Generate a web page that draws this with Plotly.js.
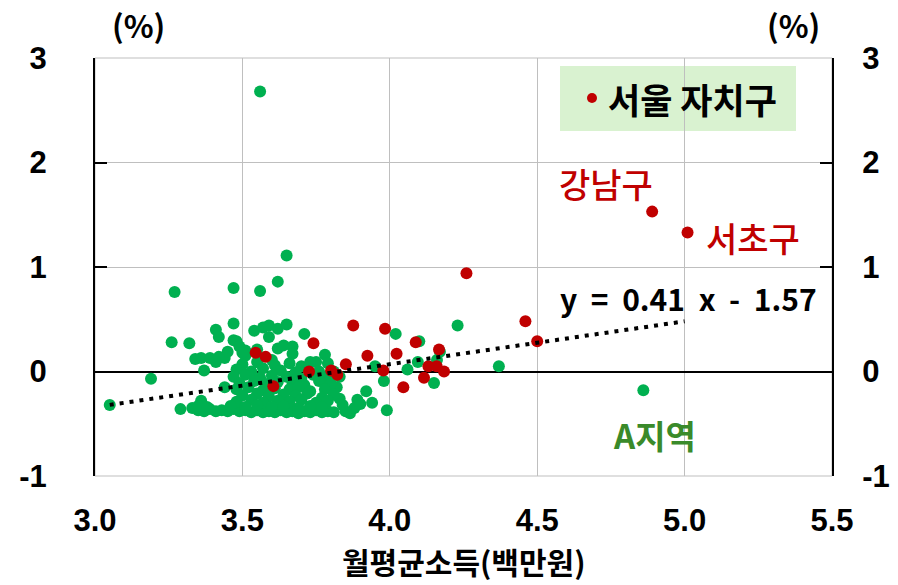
<!DOCTYPE html>
<html>
<head>
<meta charset="utf-8">
<script src="https://cdn.plot.ly/plotly-3.0.1.min.js"></script>
<style>html,body{margin:0;padding:0;background:#fff;}#chart{width:898px;height:585px;}</style>
</head>
<body>
<div id="chart"></div>
<script>
// ---- data ----
const seoulX = [4.89, 5.01, 4.26, 4.46, 4.50, 3.876, 3.984, 3.741, 4.088, 4.167, 3.545, 3.579, 3.924, 4.023, 3.851, 3.726, 3.801, 3.822, 3.978, 4.131, 4.159, 4.184, 4.116, 4.046, 3.605];
const seoulY = [1.53, 1.33, 0.94, 0.48, 0.29, 0.44, 0.41, 0.27, 0.28, 0.21, 0.18, 0.14, 0.15, 0.17, 0.07, 0.00, 0.01, -0.03, 0.01, 0.05, 0.05, 0.00, -0.06, -0.15, -0.14];
const seoulNames = ['강남구', '서초구'];

const otherX = [
 3.05,3.19,3.27,3.26,3.29,3.32,3.34,3.36,3.37,3.36,3.39,3.41,3.44,3.44,3.41,3.42,3.47,3.47,3.47,3.51,3.51,3.56,3.56,3.62,3.65,
 3.54,3.57,3.59,3.62,3.65,3.59,3.71,3.62,3.64,3.67,3.67,3.60,3.78,3.75,3.79,3.48,3.49,3.55,3.45,3.42,3.50,
 4.02,4.10,4.095,4.06,3.98,4.15,4.23,4.17,3.94,3.99,3.92,3.89,3.865,3.88,3.83,3.82,3.83,3.81,3.79,3.95,4.16,4.37,4.86,3.85,3.84,3.90,
 3.33,3.35,3.37,3.39,3.41,3.43,3.45,3.47,3.49,3.51,3.53,3.55,3.57,3.59,3.61,3.63,3.65,3.67,3.69,3.71,3.73,3.75,3.77,3.79,3.81,3.35,3.38,
 3.50,3.55,3.61,3.66,3.70,3.73,
 3.48,3.53,3.57,3.63,3.68,3.72,3.76,
 3.47,3.51,3.56,3.60,3.65,3.70,3.74,3.78,
 3.49,3.54,3.58,3.62,3.67,3.71,3.76,3.80,
 3.48,3.52,3.57,3.61,3.66,3.69,3.73,3.78,
 3.50,3.55,3.59,3.64,3.68,3.72,3.77,3.81,
 3.48,3.53,3.57,3.62,3.66,3.70,3.75,3.79,
 3.46,3.51,3.55,3.60,3.64,3.69,3.73,3.77
];
const otherY = [
 -0.32,-0.07,0.76,0.28,-0.36,0.27,0.12,0.13,0.01,-0.28,0.13,0.09,0.13,-0.15,0.40,0.33,0.46,0.30,0.80,0.20,0.15,2.68,0.77,0.86,1.11,
 0.39,0.42,0.44,0.41,0.45,0.33,0.36,0.22,0.25,0.24,0.17,0.11,0.16,0.09,0.08,0.29,0.24,0.21,0.19,0.14,0.18,
 0.36,0.29,0.09,0.02,-0.09,-0.11,0.44,0.19,-0.30,-0.37,-0.19,-0.27,-0.40,-0.35,-0.26,-0.15,-0.05,0.00,-0.08,0.05,0.11,0.05,-0.18,-0.38,-0.32,-0.31,
 -0.35,-0.37,-0.38,-0.36,-0.38,-0.37,-0.38,-0.36,-0.38,-0.37,-0.39,-0.37,-0.39,-0.38,-0.39,-0.37,-0.39,-0.38,-0.40,-0.38,-0.39,-0.37,-0.39,-0.38,-0.39,-0.33,-0.34,
 0.07,0.09,0.06,0.08,0.05,0.09,
 0.02,0.00,0.03,0.01,-0.01,0.03,0.00,
 -0.05,-0.03,-0.06,-0.04,-0.05,-0.07,-0.03,-0.05,
 -0.11,-0.09,-0.12,-0.10,-0.11,-0.13,-0.09,-0.12,
 -0.17,-0.15,-0.18,-0.16,-0.17,-0.15,-0.19,-0.17,
 -0.23,-0.21,-0.24,-0.22,-0.23,-0.21,-0.25,-0.22,
 -0.29,-0.27,-0.30,-0.28,-0.29,-0.27,-0.30,-0.28,
 -0.33,-0.34,-0.32,-0.34,-0.33,-0.35,-0.33,-0.34
];
const regionAIndex = 68; // 'A지역' point in otherX/otherY

const trendSlope = 0.41;
const trendIntercept = -1.57;
const trendX = [3.05, 5.0];

const xTicks = [3.0, 3.5, 4.0, 4.5, 5.0, 5.5];
const yTicks = [-1, 0, 1, 2, 3];

// ---- chart ----
const FONT = '"Noto Sans CJK KR", "Noto Sans", sans-serif';
const NUMFONT = '"Liberation Sans", Arial, sans-serif';
const GREEN = '#00B050', RED = '#C00000';
const trendY = trendX.map(x => trendSlope * x + trendIntercept);

const traces = [
  {x: otherX, y: otherY, type: 'scatter', mode: 'markers', marker: {color: GREEN, size: 12}, showlegend: false, hoverinfo: 'x+y'},
  {x: seoulX, y: seoulY, type: 'scatter', mode: 'markers', marker: {color: RED, size: 12}, showlegend: false, hoverinfo: 'x+y'},
  {x: trendX, y: trendY, type: 'scatter', mode: 'lines', line: {color: '#000', width: 4, dash: '4px,6px'}, showlegend: false, hoverinfo: 'skip'},
  {x: trendX, y: trendY, yaxis: 'y2', type: 'scatter', mode: 'lines', line: {width: 0}, opacity: 0, showlegend: false, hoverinfo: 'skip'}
];

const tickFont = {family: NUMFONT, size: 31, color: '#000', weight: 700};
const layout = {
  width: 898, height: 585,
  margin: {l: 95, r: 66, t: 58, b: 109},
  paper_bgcolor: '#fff', plot_bgcolor: '#fff',
  showlegend: false,
  xaxis: {
    range: [3.0, 5.5], tickvals: xTicks, ticktext: xTicks.map(v => v.toFixed(1)),
    showgrid: true, gridcolor: '#BFBFBF', gridwidth: 1,
    zeroline: false, showline: false, ticks: '',
    tickfont: tickFont, ticklabelstandoff: 23
  },
  yaxis: {
    range: [-1, 3], tickvals: yTicks, ticktext: yTicks.map(String),
    showgrid: true, gridcolor: '#BFBFBF', gridwidth: 1,
    zeroline: true, zerolinecolor: '#000', zerolinewidth: 2,
    showline: true, linecolor: '#000', linewidth: 2,
    ticks: 'inside', ticklen: 12, tickwidth: 2, tickcolor: '#000',
    tickfont: tickFont, ticklabelstandoff: 40
  },
  yaxis2: {
    range: [-1, 3], tickvals: yTicks, ticktext: yTicks.map(String),
    overlaying: 'y', side: 'right', showgrid: false, zeroline: false,
    showline: true, linecolor: '#000', linewidth: 2,
    ticks: 'inside', ticklen: 12, tickwidth: 2, tickcolor: '#000',
    tickfont: tickFont, ticklabelstandoff: 22
  },
  shapes: [
    {type: 'rect', xref: 'x domain', yref: 'y domain', x0: 0, x1: 1, y0: 0, y1: 1, line: {color: '#BFBFBF', width: 1}, layer: 'below'},
    {type: 'rect', xref: 'paper', yref: 'paper', x0: (560-95)/737, x1: (796-95)/737, y0: 1-(131-58)/418, y1: 1-(66-58)/418, fillcolor: '#D9F2D0', line: {width: 0}, layer: 'below'},
    {type: 'circle', xref: 'paper', yref: 'paper', x0: (587-95)/737, x1: (597-95)/737, y0: 1-(103-58)/418, y1: 1-(93-58)/418, fillcolor: RED, line: {width: 0}}
  ],
  annotations: [
    {xref: 'paper', yref: 'paper', x: (463-95)/737, y: 1-(585-58)/418, xanchor: 'center', yanchor: 'bottom', text: '월평균소득(백만원)', showarrow: false, font: {family: FONT, size: 30, color: '#000', weight: 700}},
    {xref: 'paper', yref: 'paper', x: (606-95)/737, y: 1-(98-58)/418, xanchor: 'left', yanchor: 'middle', text: '서울 자치구', showarrow: false, font: {family: FONT, size: 35, color: '#000', weight: 700}},
    {xref: 'x', yref: 'y', x: seoulX[0], y: seoulY[0], xshift: -46, yshift: 28, text: seoulNames[0], showarrow: false, font: {family: FONT, size: 34, color: RED, weight: 500}},
    {xref: 'x', yref: 'y', x: seoulX[1], y: seoulY[1], xshift: 65, yshift: -5, text: seoulNames[1], showarrow: false, font: {family: FONT, size: 34, color: RED, weight: 500}},
    {xref: 'x', yref: 'y', x: otherX[regionAIndex], y: otherY[regionAIndex], xshift: 11, yshift: -45, text: 'A지역', showarrow: false, font: {family: FONT, size: 33, color: '#3A8A2A', weight: 700}},
    {xref: 'paper', yref: 'paper', x: (688-95)/737, y: 1-(298-58)/418, xanchor: 'center', yanchor: 'middle', text: 'y&nbsp;&nbsp;=&nbsp;&nbsp;0.41&nbsp;&nbsp;x&nbsp;&nbsp;-&nbsp;&nbsp;1.57', showarrow: false, font: {family: FONT, size: 30, color: '#000', weight: 700}},
    {xref: 'paper', yref: 'paper', x: (138-95)/737, y: 1-(25-58)/418, xanchor: 'center', yanchor: 'middle', text: '(%)', showarrow: false, font: {family: FONT, size: 31, color: '#000', weight: 700}},
    {xref: 'paper', yref: 'paper', x: (793-95)/737, y: 1-(25-58)/418, xanchor: 'center', yanchor: 'middle', text: '(%)', showarrow: false, font: {family: FONT, size: 31, color: '#000', weight: 700}}
  ]
};

Plotly.newPlot('chart', traces, layout, {displayModeBar: false, staticPlot: true});
</script>
</body>
</html>
